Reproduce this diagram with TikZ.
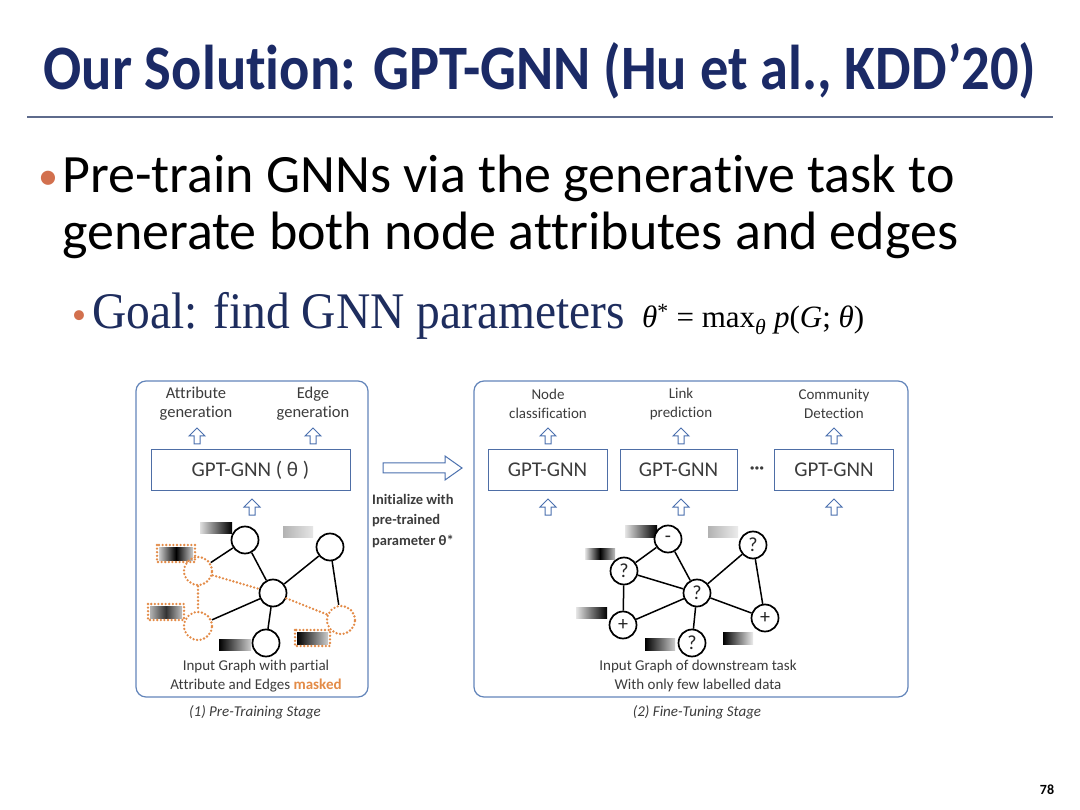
\documentclass[tikz,border=0pt]{standalone}
\usepackage{fontspec}
\setmainfont[Ligatures=NoCommon]{Carlito}
\newfontfamily\goalfont{Liberation Serif}
\usetikzlibrary{positioning, calc}
\definecolor{navy}{HTML}{1B2A66}
\definecolor{goalnavy}{HTML}{1E2D5E}
\definecolor{rulegray}{HTML}{5E6B8C}
\definecolor{bulletor}{HTML}{D2704E}
\definecolor{panelblue}{HTML}{6385BA}
\definecolor{boxblue}{HTML}{4E6EA6}
\definecolor{arrblue}{HTML}{4A70AE}
\definecolor{mask}{HTML}{E38B47}
\definecolor{lblgray}{HTML}{3C3C3C}

\begin{document}
\begin{tikzpicture}[x=1pt,y=-1pt]
  \tikzset{panel/.style={draw=panelblue,line width=1.2pt,rounded corners=10pt,inner sep=0pt},
    gptbox/.style={draw=boxblue,line width=1pt,minimum height=40pt,inner sep=0pt,font=\fontsize{21}{24}\selectfont,text=lblgray},
    tasklbl/.style={align=center,font=\fontsize{15}{18.5}\selectfont,text=lblgray},
    genlbl/.style={tasklbl,font=\fontsize{16.5}{19}\selectfont},
    stagelbl/.style={font=\itshape\fontsize{15}{18}\selectfont,text=lblgray},
    gnode/.style={circle,draw=black,fill=white,line width=1.7pt,minimum size=27pt,inner sep=0pt,font=\fontsize{20}{20}\selectfont,text=black!85},
    mnode/.style={circle,draw=mask,line width=2.6pt,dash pattern=on 0pt off 3.6pt,line cap=round,minimum size=28pt,inner sep=0pt},
    gedge/.style={line width=1.5pt},
    medge/.style={draw=mask,line width=2.6pt,dash pattern=on 0pt off 3.6pt,line cap=round},
    hup/.pic={\draw[arrblue,fill=white,line width=1pt] (-3,8)--(-3,0)--(-8,0)--(0,-8)--(8,0)--(3,0)--(3,8)--cycle;}}
  \fill[white] (0,0) rectangle (1080,810);
  \useasboundingbox (0,0) rectangle (1080,810);
  % title and bullets
  \node[font=\bfseries\fontsize{56.5}{60}\selectfont,text=navy] (title) at (540,71) {\scalebox{1}[1.12]{Our Solution: GPT-GNN (Hu et al., KDD’20)}};
  \draw[rulegray,line width=2pt] (27,117) -- (1053,117);
  \node[text=bulletor,font=\fontsize{40}{40}\selectfont,anchor=base] (b1) at (48,190) {•};
  \node[font=\fontsize{54}{60}\selectfont,anchor=base west,inner sep=0pt] (line1) at (62,193) {Pre-train GNNs via the generative task to};
  \node[font=\fontsize{54}{60}\selectfont,anchor=base west,inner sep=0pt] (line2) at (62,250) {generate both node attributes and edges};
  \node[text=bulletor,font=\fontsize{28}{28}\selectfont,anchor=base] (b2) at (79,324) {•};
  \node[font=\goalfont\fontsize{47.5}{50}\selectfont,text=goalnavy,anchor=base west,inner sep=0pt] (goal) at (92,329) {\scalebox{1}[1.08]{Goal: find GNN parameters}};
  \node[font=\goalfont\fontsize{31}{34}\selectfont,anchor=base west,inner sep=0pt] (formula) at (642,328) {\textit{θ}\textsuperscript{*} = max\textsubscript{\itshape θ} \textit{p}(\textit{G}; \textit{θ})};

  % (1) pre-training
  \node[panel,minimum width=232pt,minimum height=316pt] (pre) at (252,539) {};
  \node[genlbl] (attr) at (196,404) {Attribute\\generation};
  \node[genlbl] (edge) at (313,404) {Edge\\generation};
  \pic at (197,436) {hup};
  \pic at (313,436) {hup};
  \node[gptbox,minimum width=199pt] (gptpre) at (250.5,470) {GPT-GNN ( θ )};
  \pic at (252,507) {hup};
  \shade[left color=gray!25,right color=black] (200,522) rectangle (232,533);
  \shade[left color=gray!60,right color=gray!20] (283,526) rectangle (313,537);
  \shade[left color=gray!40,right color=gray!40,middle color=black] (159,547) rectangle (193,560);
  \shade[left color=gray!60,right color=gray!50,middle color=black!80] (150,606) rectangle (182,618);
  \shade[left color=black,right color=gray!40] (219,639) rectangle (251,650);
  \shade[left color=black,right color=gray!40] (297,632) rectangle (328,644);
  \draw[medge] (157,545) rectangle (195,562);
  \draw[medge] (148,604) rectangle (184,620);
  \draw[medge] (295,630) rectangle (330,646);
  \node[gnode] (pa) at (245,540) {};
  \node[gnode] (pb) at (330,547) {};
  \node[gnode] (pc) at (273,593) {};
  \node[gnode] (pd) at (266,643) {};
  \node[mnode] (pm1) at (198,571) {};
  \node[mnode] (pm2) at (198,626) {};
  \node[mnode] (pm3) at (341,620) {};
  \draw[gedge] (pm1)--(pa) (pa)--(pc) (pb)--(pc) (pc)--(pd) (pm2)--(pc) (pb)--(pm3);
  \draw[medge] (pm1)--(pc) (pm1)--(pm2) (pc)--(pm3);
  \node[tasklbl] (precap) at (256,676) {Input Graph with partial\\Attribute and Edges {\bfseries\color{mask}masked}};
  \node[stagelbl] (stage1) at (255,712) {(1) Pre-Training Stage};

  % transfer
  \draw[arrblue,fill=white,line width=1pt] (383,463)--(445,463)--(445,456)--(462,468)--(445,480)--(445,473)--(383,473)--cycle;
  \node[font=\bfseries\fontsize{14.5}{20.5}\selectfont,text=lblgray,align=left,anchor=north west,inner sep=0pt] (init) at (372,494) {Initialize with\\pre-trained\\parameter θ*};

  % (2) fine-tuning
  \node[panel,minimum width=434pt,minimum height=316pt] (fine) at (691,539) {};
  \node[tasklbl] (cls) at (548,404) {Node\\classification};
  \node[tasklbl] (lnk) at (681,404) {Link\\prediction};
  \node[tasklbl] (com) at (834,404) {Community\\Detection};
  \foreach \x in {548,681,834} {\pic at (\x,436) {hup}; \pic at (\x,507) {hup};}
  \node[gptbox,minimum width=119pt] (g1) at (547.5,470) {GPT-GNN};
  \node[gptbox,minimum width=117pt] (g2) at (678.5,470) {GPT-GNN};
  \node[gptbox,minimum width=119pt] (g3) at (834,470) {GPT-GNN};
  \node[font=\bfseries\fontsize{18}{18}\selectfont,text=lblgray] (dots) at (757,470) {···};
  \shade[left color=gray!20,right color=black] (625,525) rectangle (657,537);
  \shade[left color=gray!20,right color=gray!50,middle color=black] (585,548) rectangle (615,559);
  \shade[left color=gray!20,right color=black] (576,607) rectangle (607,618);
  \shade[left color=black,right color=gray!40] (645,638) rectangle (675,650);
  \shade[left color=black,right color=gray!15] (723,632) rectangle (753,644);
  \shade[left color=gray!60,right color=gray!15] (708,526) rectangle (738,537);
  \node[gnode] (fn) at (668,539) {-};
  \node[gnode] (fq1) at (624,571) {?};
  \node[gnode] (fqc) at (697,593) {?};
  \node[gnode] (fq3) at (753,545) {?};
  \node[gnode] (fp1) at (623,625) {+};
  \node[gnode] (fq4) at (692,643) {?};
  \node[gnode] (fp2) at (765,618) {+};
  \draw[gedge] (fn)--(fq1) (fn)--(fqc) (fq1)--(fqc) (fq1)--(fp1) (fp1)--(fqc) (fqc)--(fq4) (fqc)--(fq3) (fqc)--(fp2) (fq3)--(fp2);
  \node[tasklbl] (finecap) at (698,676) {Input Graph of downstream task\\With only few labelled data};
  \node[stagelbl] (stage2) at (697,712) {(2) Fine-Tuning Stage};

  \node[font=\bfseries\fontsize{14}{16}\selectfont] (page) at (1047,790) {78};
\end{tikzpicture}
\end{document}
